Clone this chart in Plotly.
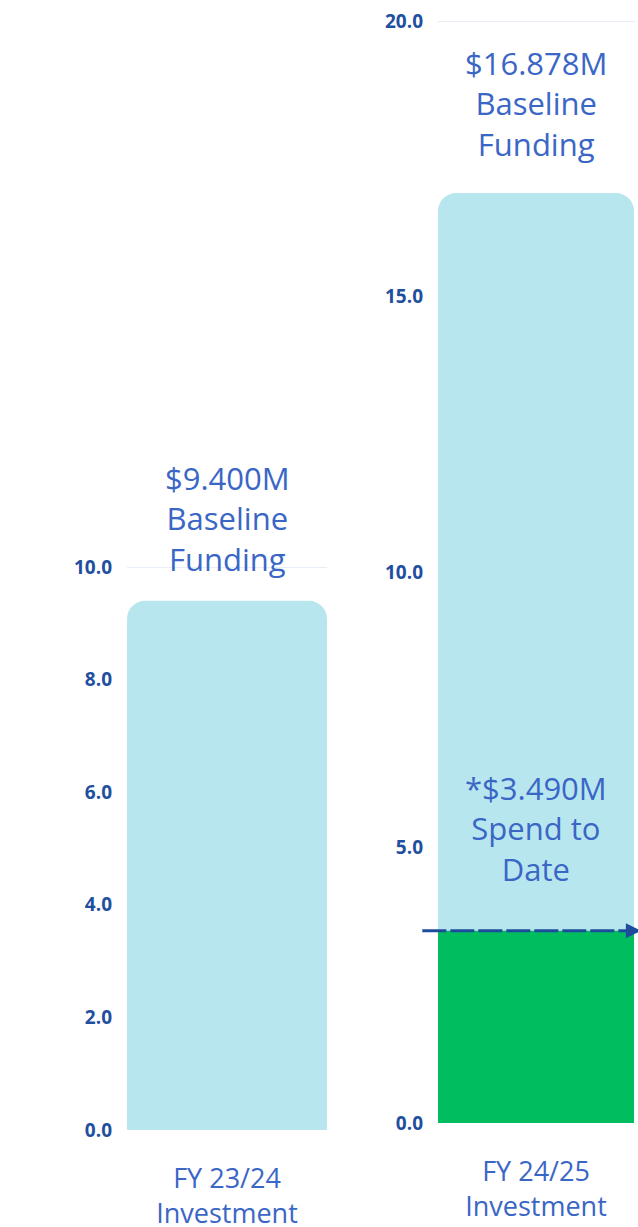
import plotly.graph_objects as go

# ---- data ----
categories_fy2324 = ["FY 23/24<br>Investment"]
categories_fy2425 = ["FY 24/25<br>Investment"]
baseline_fy2324 = [9.400]
baseline_fy2425 = [16.878]
spend_fy2425 = [3.490]
label_baseline_fy2324 = ["$9.400M<br>Baseline<br>Funding"]
label_baseline_fy2425 = ["$16.878M<br>Baseline<br>Funding"]
label_spend_fy2425 = ["*$3.490M<br>Spend to<br>Date"]
yrange_fy2324 = [0, 10]
yrange_fy2425 = [0, 20]

LIGHT = "#b8e6ee"
GREEN = "#00be5f"
TXT = "#3a66c6"
TICK = "#1f4f9f"
LINE = "#1e4b9b"
GRID = "#dfe8f4"
FONT = "Open Sans"

W, H = 638, 1227

fig = go.Figure()

fig.add_trace(go.Bar(x=categories_fy2324, y=baseline_fy2324, marker=dict(color=LIGHT, cornerradius=18, line=dict(width=0)),
                     xaxis="x", yaxis="y", width=1.0, hoverinfo="skip"))
fig.add_trace(go.Bar(x=categories_fy2425, y=baseline_fy2425, marker=dict(color=LIGHT, cornerradius=18, line=dict(width=0)),
                     xaxis="x2", yaxis="y2", width=1.0, hoverinfo="skip"))
fig.add_trace(go.Bar(x=categories_fy2425, y=spend_fy2425, marker=dict(color=GREEN, line=dict(width=0)),
                     xaxis="x2", yaxis="y2", width=1.0, hoverinfo="skip"))

# top gridlines (edge of range)
fig.add_shape(type="line", xref="x domain", yref="y", x0=0, x1=1, y0=yrange_fy2324[1], y1=yrange_fy2324[1],
              line=dict(color=GRID, width=1.5), layer="below")
fig.add_shape(type="line", xref="x2 domain", yref="y2", x0=0, x1=1.01, y0=yrange_fy2425[1], y1=yrange_fy2425[1],
              line=dict(color=GRID, width=1.5), layer="below")

# Spend-to-date dashed line with arrow
fig.add_shape(type="line", xref="x2 domain", yref="y2", x0=-0.08, x1=1.03,
              y0=spend_fy2425[0], y1=spend_fy2425[0],
              line=dict(color=LINE, width=3, dash="24px,4px"))
fig.add_annotation(xref="x2 domain", yref="y2", x=1.035, y=spend_fy2425[0], text="",
                   showarrow=True, axref="pixel", ayref="pixel", ax=-8, ay=0,
                   arrowhead=2, arrowsize=1, arrowwidth=3, arrowcolor=LINE)

# Labels
fig.add_annotation(xref="x", yref="y", x=categories_fy2324[0], y=baseline_fy2324[0],
                   text=label_baseline_fy2324[0], showarrow=False, yanchor="bottom", yshift=19,
                   font=dict(family=FONT, size=31, color=TXT))
fig.add_annotation(xref="x2", yref="y2", x=categories_fy2425[0], y=baseline_fy2425[0],
                   text=label_baseline_fy2425[0], showarrow=False, yanchor="bottom", yshift=26,
                   font=dict(family=FONT, size=31, color=TXT))
fig.add_annotation(xref="x2", yref="y2", x=categories_fy2425[0], y=spend_fy2425[0],
                   text=label_spend_fy2425[0], showarrow=False, yanchor="bottom", yshift=39,
                   font=dict(family=FONT, size=31, color=TXT))

xcommon = dict(showgrid=False, zeroline=False, showline=False, ticks="", automargin=False,
               tickfont=dict(family=FONT, size=27, color=TXT), ticklabelstandoff=30,
               range=[-0.5, 0.5], fixedrange=True)
ycommon = dict(showgrid=True, gridcolor=GRID, gridwidth=1.5, zeroline=False, showline=False,
               ticks="", tickformat=".1f", ticklabelstandoff=14, automargin=False, fixedrange=True,
               tickfont=dict(family=FONT, size=19, color=TICK, weight="bold"))

fig.update_layout(
    width=W, height=H, autosize=False,
    margin=dict(l=0, r=0, t=0, b=0),
    paper_bgcolor="white", plot_bgcolor="white",
    barmode="overlay", showlegend=False,
    xaxis=dict(domain=[127 / W, 327 / W], anchor="y", **xcommon),
    yaxis=dict(domain=[(H - 1130) / H, (H - 567) / H], anchor="x", range=yrange_fy2324, dtick=2, **ycommon),
    xaxis2=dict(domain=[438 / W, 634 / W], anchor="y2", **xcommon),
    yaxis2=dict(domain=[(H - 1123) / H, (H - 21) / H], anchor="x2", range=yrange_fy2425, dtick=5, **ycommon),
)

fig.write_html("out.html", config={"displayModeBar": False},
               post_script="document.body.style.margin='0';document.body.style.overflow='hidden';")
